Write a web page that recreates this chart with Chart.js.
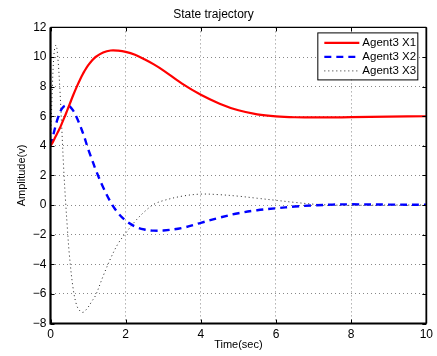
<!DOCTYPE html>
<html>
<head>
<meta charset="utf-8">
<script src="https://cdn.jsdelivr.net/npm/chart.js@4.4.1/dist/chart.umd.min.js"></script>
<style>
  html, body { margin: 0; padding: 0; background: #fff; }
  #wrap { position: relative; width: 437px; height: 356px; }
</style>
</head>
<body>
<div id="wrap"><canvas id="c" width="437" height="356"></canvas></div>
<script>
'use strict';

// ── data ──
var timeSec = [0, 0.05, 0.1, 0.15, 0.2, 0.25, 0.3, 0.35, 0.4, 0.45, 0.5, 0.6, 0.7, 0.8, 0.85, 0.9, 1.0, 1.1, 1.2, 1.4, 1.6, 1.8, 2.0, 2.25, 2.5, 2.75, 3.0, 3.5, 4.0, 4.5, 5.0, 5.5, 6.0, 6.5, 7.0, 7.5, 8.0, 9.0, 10.0];
var agentX1 = [4.0, 4.2, 4.45, 4.7, 4.95, 5.2, 5.5, 5.8, 6.1, 6.43, 6.75, 7.4, 8.0, 8.55, 8.8, 9.03, 9.43, 9.75, 10.0, 10.3, 10.44, 10.43, 10.35, 10.15, 9.85, 9.5, 9.1, 8.2, 7.45, 6.85, 6.4, 6.13, 5.99, 5.93, 5.92, 5.92, 5.94, 5.97, 6.0];
var agentX2 = [4.0, 4.5, 5.0, 5.5, 5.9, 6.25, 6.5, 6.65, 6.72, 6.74, 6.7, 6.4, 5.9, 5.3, 4.95, 4.6, 3.8, 3.1, 2.4, 1.2, 0.2, -0.55, -1.05, -1.45, -1.65, -1.73, -1.72, -1.55, -1.2, -0.85, -0.55, -0.35, -0.22, -0.1, -0.02, 0.03, 0.05, 0.03, 0.02];
var agentX3 = [4.0, 8.0, 10.4, 10.8, 9.8, 7.8, 5.2, 2.5, 0.3, -1.6, -3.3, -5.6, -6.8, -7.2, -7.25, -7.2, -6.9, -6.5, -6.1, -4.8, -3.6, -2.6, -1.9, -1.1, -0.45, 0.05, 0.3, 0.6, 0.74, 0.7, 0.6, 0.46, 0.32, 0.18, 0.06, 0.0, -0.02, 0.0, 0.0];
var seriesLabels = ['Agent3 X1', 'Agent3 X2', 'Agent3 X3'];
var xTicks = [0, 2, 4, 6, 8, 10];
var yTicks = [-8, -6, -4, -2, 0, 2, 4, 6, 8, 10, 12];

var FONT = "'Liberation Sans', Arial, sans-serif";

function pts(ys){
  return timeSec.map(function(t, i){ return { x: t, y: ys[i] }; });
}
function minusSign(v){
  return v < 0 ? '\u2212' + Math.abs(v) : String(v);
}

// ── MATLAB style frame with inward ticks ──
var frameTicks = {
  id: 'frameTicks',
  afterDatasetsDraw: function(chart){
    var ctx = chart.ctx, a = chart.chartArea;
    var xs = chart.scales.x, ys = chart.scales.y;
    var len = 4;
    ctx.save();
    ctx.strokeStyle = '#000';
    ctx.lineWidth = 1;
    ctx.beginPath();
    xTicks.forEach(function(v){
      var px = Math.round(xs.getPixelForValue(v)) + 0.5;
      ctx.moveTo(px, a.bottom); ctx.lineTo(px, a.bottom - len);
      ctx.moveTo(px, a.top); ctx.lineTo(px, a.top + len);
    });
    yTicks.forEach(function(v){
      var py = Math.round(ys.getPixelForValue(v)) + 0.5;
      ctx.moveTo(a.left, py); ctx.lineTo(a.left + len, py);
      ctx.moveTo(a.right, py); ctx.lineTo(a.right - len, py);
    });
    ctx.stroke();
    ctx.lineWidth = 1.2;
    ctx.beginPath();
    ctx.moveTo(a.left, a.top); ctx.lineTo(a.right, a.top);
    ctx.stroke();
    ctx.lineWidth = 1.8;
    ctx.beginPath();
    ctx.moveTo(a.right, a.top); ctx.lineTo(a.right, a.bottom);
    ctx.stroke();
    ctx.lineWidth = 2.2;
    ctx.beginPath();
    ctx.moveTo(a.left, a.top); ctx.lineTo(a.left, a.bottom); ctx.lineTo(a.right, a.bottom);
    ctx.stroke();
    ctx.restore();
  }
};

// ── legend box inside the plot, top right ──
var boxLegend = {
  id: 'boxLegend',
  afterDraw: function(chart){
    var ctx = chart.ctx, a = chart.chartArea;
    var bw = 100, bh = 47;
    var bx = a.right - 9 - bw, by = a.top + 5;
    ctx.save();
    ctx.fillStyle = '#fff';
    ctx.fillRect(bx, by, bw, bh);
    ctx.strokeStyle = '#000';
    ctx.lineWidth = 1;
    ctx.strokeRect(bx + 0.5, by + 0.5, bw, bh);
    ctx.font = '11.5px ' + FONT;
    ctx.textBaseline = 'middle';
    ctx.textAlign = 'left';
    chart.data.datasets.forEach(function(ds, i){
      var ly = by + 10.5 + i * 14;
      ctx.strokeStyle = ds.borderColor;
      ctx.lineWidth = ds.borderWidth;
      ctx.setLineDash(ds.borderDash || []);
      ctx.beginPath();
      ctx.moveTo(bx + 7, ly); ctx.lineTo(bx + 42, ly);
      ctx.stroke();
      ctx.setLineDash([]);
      ctx.fillStyle = '#000';
      ctx.fillText(ds.label, bx + 45, ly);
    });
    ctx.restore();
  }
};

new Chart(document.getElementById('c'), {
  type: 'line',
  data: {
    datasets: [
      { label: seriesLabels[0], data: pts(agentX1), borderColor: '#ff0000', borderWidth: 2.2, borderDash: [] },
      { label: seriesLabels[1], data: pts(agentX2), borderColor: '#0000ff', borderWidth: 2.4, borderDash: [7, 5] },
      { label: seriesLabels[2], data: pts(agentX3), borderColor: '#222222', borderWidth: 1, borderDash: [1, 3] }
    ]
  },
  options: {
    responsive: false,
    animation: false,
    devicePixelRatio: 1,
    layout: { padding: { left: 0, right: 10, top: 0, bottom: 0 } },
    elements: {
      point: { radius: 0 },
      line: { tension: 0.35, fill: false }
    },
    plugins: {
      legend: { display: false },
      tooltip: { enabled: false },
      title: {
        display: true, text: 'State trajectory', color: '#000',
        font: { size: 12, family: FONT, weight: 'normal' },
        padding: { top: 7, bottom: 6 }
      }
    },
    scales: {
      x: {
        type: 'linear', min: 0, max: 10,
        afterFit: function(s){ s.height = 32.5; },
        afterBuildTicks: function(s){ s.ticks = xTicks.map(function(v){ return { value: v }; }); },
        grid: { color: '#888', lineWidth: 1, drawTicks: false },
        border: { display: false, dash: [1, 3] },
        ticks: { color: '#000', padding: 4, maxRotation: 0, font: { size: 12, family: FONT }, callback: minusSign },
        title: { display: true, text: 'Time(sec)', color: '#000', font: { size: 11, family: FONT }, padding: { top: 0, bottom: 4 } }
      },
      y: {
        type: 'linear', min: -8, max: 12,
        afterFit: function(s){ s.width = 50.5; },
        afterBuildTicks: function(s){ s.ticks = yTicks.map(function(v){ return { value: v }; }); },
        grid: { color: '#888', lineWidth: 1, drawTicks: false },
        border: { display: false, dash: [1, 3] },
        ticks: { color: '#000', padding: 4, font: { size: 12, family: FONT }, callback: minusSign },
        title: { display: true, text: 'Amplitude(v)', color: '#000', font: { size: 11, family: FONT }, padding: { top: 15, bottom: 0 } }
      }
    }
  },
  plugins: [frameTicks, boxLegend]
});
</script>
</body>
</html>
